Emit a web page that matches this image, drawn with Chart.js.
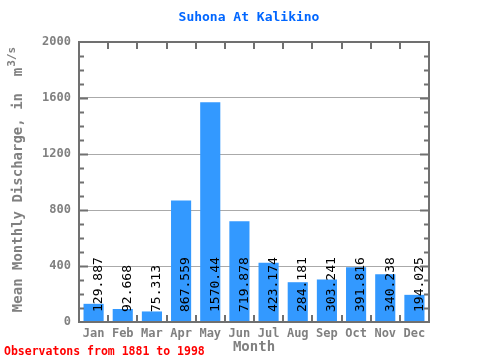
<!DOCTYPE html>
<html>
<head>
<meta charset="utf-8">
<script src="https://cdn.jsdelivr.net/npm/chart.js@4"></script>
<style>
  html, body { margin: 0; padding: 0; background: #fff; }
  canvas { display: block; }
</style>
</head>
<body>
<canvas id="chart" width="480" height="360"></canvas>
<script>
// dados
const months = ['Jan', 'Feb', 'Mar', 'Apr', 'May', 'Jun', 'Jul', 'Aug', 'Sep', 'Oct', 'Nov', 'Dec'];
const discharge = [129.887, 92.668, 75.313, 867.559, 1570.44, 719.878, 423.174, 284.181, 303.241, 391.816, 340.238, 194.025];
const valueLabels = ['129.887', '92.668', '75.313', '867.559', '1570.44', '719.878', '423.174', '284.181', '303.241', '391.816', '340.238', '194.025'];
const yTicks = [0, 400, 800, 1200, 1600, 2000];

const mono = '"DejaVu Sans Mono", "Liberation Mono", monospace';
const axisGray = '#707070';
const textGray = '#808080';

// desenha moldura, marcas, rótulos e títulos
const decorPlugin = {
    id: 'decor',
    afterDatasetsDraw(chart) {
        const { ctx, chartArea: a, scales } = chart;
        const y = scales.y;
        ctx.save();

        // valores girados sobre as barras
        ctx.fillStyle = '#000';
        ctx.font = '13px ' + mono;
        ctx.textAlign = 'left';
        ctx.textBaseline = 'middle';
        chart.getDatasetMeta(0).data.forEach((bar, i) => {
            ctx.save();
            ctx.translate(bar.x + 5, a.bottom - 10);
            ctx.rotate(-Math.PI / 2);
            ctx.fillText(valueLabels[i], 0, 0);
            ctx.restore();
        });

        // marcas menores a cada 100
        ctx.strokeStyle = axisGray;
        ctx.lineWidth = 2;
        ctx.beginPath();
        for (let v = 100; v < 2000; v += 100) {
            const py = Math.round(y.getPixelForValue(v)) + 0.5;
            const len = v % 400 === 0 ? 9 : 5;
            ctx.moveTo(a.left, py); ctx.lineTo(a.left + len, py);
            ctx.moveTo(a.right, py); ctx.lineTo(a.right - len, py);
        }
        // marcas nas divisões das categorias
        const step = (a.right - a.left) / months.length;
        for (let i = 1; i < months.length; i++) {
            const px = Math.round(a.left + i * step);
            ctx.moveTo(px, a.top); ctx.lineTo(px, a.top + 7);
            ctx.moveTo(px, a.bottom); ctx.lineTo(px, a.bottom - 7);
        }
        ctx.stroke();

        // moldura
        ctx.strokeRect(a.left, a.top, a.right - a.left, a.bottom - a.top);

        // título
        ctx.fillStyle = '#0066ff';
        ctx.font = 'bold 13px ' + mono;
        ctx.textAlign = 'center';
        ctx.textBaseline = 'middle';
        ctx.fillText('Suhona At Kalikino', 249, 18);

        // título do eixo x
        ctx.fillStyle = textGray;
        ctx.font = 'bold 14px ' + mono;
        ctx.fillText('Month', (a.left + a.right) / 2, 347);

        // título do eixo y com expoente
        ctx.save();
        ctx.translate(18, 180);
        ctx.rotate(-Math.PI / 2);
        ctx.font = 'bold 14px ' + mono;
        const main = 'Mean Monthly Discharge, in  m';
        const sup = '3/s';
        const wMain = ctx.measureText(main).width;
        ctx.font = 'bold 11px ' + mono;
        const wSup = ctx.measureText(sup).width;
        const start = -(wMain + wSup) / 2;
        ctx.textAlign = 'left';
        ctx.font = 'bold 14px ' + mono;
        ctx.fillText(main, start, 0);
        ctx.font = 'bold 11px ' + mono;
        ctx.fillText(sup, start + wMain + 1, -6);
        ctx.restore();

        // nota de rodapé
        ctx.fillStyle = '#ff0000';
        ctx.font = 'bold 11.5px ' + mono;
        ctx.textAlign = 'left';
        ctx.fillText('Observatons from 1881 to 1998', 4, 352);

        ctx.restore();
    }
};

new Chart(document.getElementById('chart').getContext('2d'), {
    type: 'bar',
    data: {
        labels: months,
        datasets: [{
            data: discharge,
            backgroundColor: '#3399ff',
            borderWidth: 0,
            barPercentage: 0.69,
            categoryPercentage: 1
        }]
    },
    options: {
        responsive: false,
        animation: false,
        layout: { padding: { top: 42, right: 51, left: 0, bottom: 0 } },
        plugins: { legend: { display: false }, tooltip: { enabled: false }, title: { display: false } },
        scales: {
            x: {
                afterFit: s => { s.height = 38; },
                grid: { display: false, drawTicks: false },
                border: { display: false },
                ticks: {
                    color: textGray,
                    font: { family: mono, size: 12, weight: 'bold' },
                    padding: 5,
                    maxRotation: 0
                }
            },
            y: {
                min: 0,
                max: 2000,
                afterFit: s => { s.width = 79; },
                afterBuildTicks: s => { s.ticks = yTicks.map(v => ({ value: v })); },
                grid: { color: '#aaaaaa', lineWidth: 1, drawTicks: false },
                border: { display: false },
                ticks: {
                    color: textGray,
                    font: { family: mono, size: 12, weight: 'bold' },
                    padding: 8,
                    callback: v => String(v)
                }
            }
        }
    },
    plugins: [decorPlugin]
});
</script>
</body>
</html>
